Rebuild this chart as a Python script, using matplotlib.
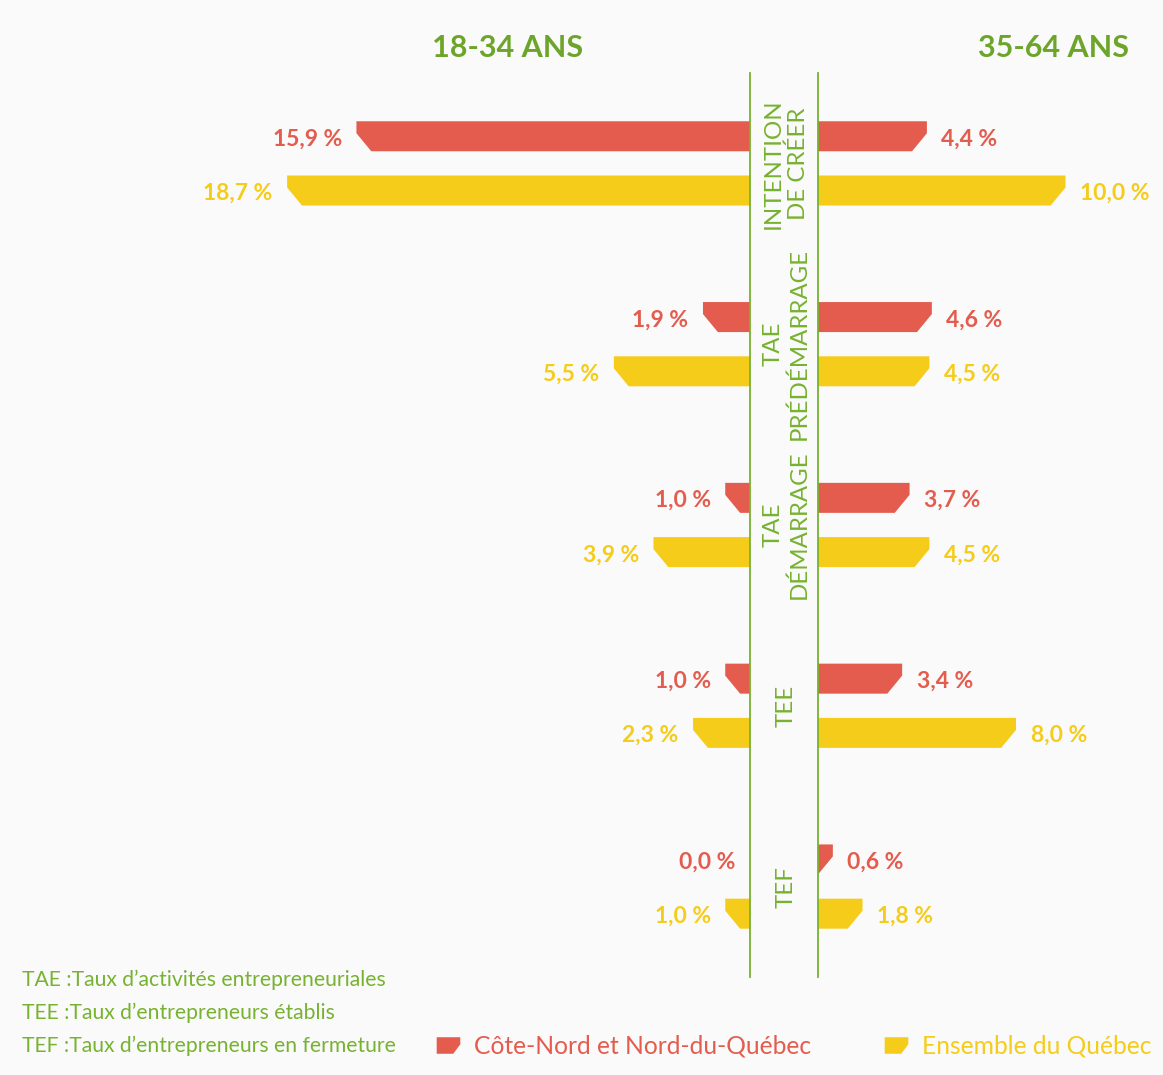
import matplotlib
matplotlib.use("Agg")
import matplotlib.pyplot as plt
from matplotlib.patches import Polygon
from matplotlib.lines import Line2D
from matplotlib.path import Path
import matplotlib.transforms as mtransforms

plt.rcParams['font.family'] = ['Lato', 'DejaVu Sans']

# data
categories = ["INTENTION\nDE CRÉER", "TAE\nPRÉDÉMARRAGE", "TAE\nDÉMARRAGE", "TEE", "TEF"]
young_cn = [15.9, 1.9, 1.0, 1.0, 0.0]
young_qc = [18.7, 5.5, 3.9, 2.3, 1.0]
older_cn = [4.4, 4.6, 3.7, 3.4, 0.6]
older_qc = [10.0, 4.5, 4.5, 8.0, 1.8]
age_groups = ["18-34 ANS", "35-64 ANS"]
series_names = ["Côte-Nord et Nord-du-Québec", "Ensemble du Québec"]
notes = ["TAE :Taux d\u2019activités entrepreneuriales",
         "TEE :Taux d\u2019entrepreneurs établis",
         "TEF :Taux d\u2019entrepreneurs en fermeture"]

RED = "#e35c4e"
YELLOW = "#f5cc1a"
GREEN = "#77b230"
TITLE_GREEN = "#6da52a"
BG = "#fafafa"

BAR_H = 0.166
OFFSET = 0.15
CHAMFER = 0.6


def chamfer_bar(ax, y, value, color):
    if value <= 0:
        return
    top = y - BAR_H / 2
    bot = y + BAR_H / 2
    dx = min(CHAMFER, value)
    dy = BAR_H * 0.6
    pts = [(0, top), (value, top), (value, bot - dy), (value - dx, bot), (0, bot)]
    ax.add_patch(Polygon(pts, closed=True, facecolor=color, edgecolor='none'))


def value_label(ax, y, value, color, side):
    txt = f"{value:.1f} %".replace('.', ',')
    ax.annotate(txt, xy=(value, y), xytext=(10.5 * side, -2), textcoords='offset points',
                ha='left' if side > 0 else 'right', va='center',
                color=color, fontsize=16.5, fontweight='bold')


fig = plt.figure(figsize=(11.63, 10.75), dpi=100, facecolor=BG)

ax_l = fig.add_axes([0.0, 0.0912, 750 / 1163, 0.8409])
ax_r = fig.add_axes([818 / 1163, 0.0912, 345 / 1163, 0.8409])

ax_l.set_xlim(30.3, 0)
ax_r.set_xlim(0, 13.94)
for ax in (ax_l, ax_r):
    ax.set_ylim(4.5, -0.5)
    ax.set_facecolor(BG)
    ax.set_xticks([])
    ax.set_yticks([])
    for s in ax.spines.values():
        s.set_visible(False)
ax_l.spines['right'].set_visible(True)
ax_l.spines['right'].set_color(GREEN)
ax_l.spines['right'].set_linewidth(1.3)
ax_r.spines['left'].set_visible(True)
ax_r.spines['left'].set_color(GREEN)
ax_r.spines['left'].set_linewidth(1.3)

for i in range(len(categories)):
    chamfer_bar(ax_l, i - OFFSET, young_cn[i], RED)
    chamfer_bar(ax_l, i + OFFSET, young_qc[i], YELLOW)
    chamfer_bar(ax_r, i - OFFSET, older_cn[i], RED)
    chamfer_bar(ax_r, i + OFFSET, older_qc[i], YELLOW)
    value_label(ax_l, i - OFFSET, young_cn[i], RED, -1)
    value_label(ax_l, i + OFFSET, young_qc[i], YELLOW, -1)
    value_label(ax_r, i - OFFSET, older_cn[i], RED, 1)
    value_label(ax_r, i + OFFSET, older_qc[i], YELLOW, 1)

# category labels in the middle column
trans = mtransforms.blended_transform_factory(fig.transFigure, ax_r.transData)
for i, cat in enumerate(categories):
    fig.text(786 / 1163, i, cat, transform=trans, rotation=90, ha='center', va='center',
             multialignment='center', color=GREEN, fontsize=17.3, linespacing=1.25)

# age group titles
fig.text(508 / 1163, 1 - 48 / 1075, age_groups[0], ha='center', va='center',
         color=TITLE_GREEN, fontsize=22, fontweight='bold')
fig.text(1054 / 1163, 1 - 48 / 1075, age_groups[1], ha='center', va='center',
         color=TITLE_GREEN, fontsize=22, fontweight='bold')

# footnotes
for k, note in enumerate(notes):
    fig.text(22 / 1163, 1 - (980 + 33 * k) / 1075, note, ha='left', va='center',
             color=GREEN, fontsize=15.2)

# legend
marker = Path([(-1, 0.7), (1, 0.7), (1, 0.1), (0.4, -0.7), (-1, -0.7), (-1, 0.7)],
              [Path.MOVETO, Path.LINETO, Path.LINETO, Path.LINETO, Path.LINETO, Path.CLOSEPOLY])
handles = [Line2D([], [], linestyle='none', marker=marker, markersize=17,
                  markerfacecolor=c, markeredgecolor='none') for c in (RED, YELLOW)]
leg = fig.legend(handles, series_names, loc='center left',
                 bbox_to_anchor=(413 / 1163, 1 - 1046 / 1075), ncol=2, frameon=False,
                 fontsize=17.7, handletextpad=0.55, columnspacing=2.9, handlelength=1.05)
for t, c in zip(leg.get_texts(), (RED, YELLOW)):
    t.set_color(c)

fig.savefig("out.png", dpi=100, facecolor=BG)
